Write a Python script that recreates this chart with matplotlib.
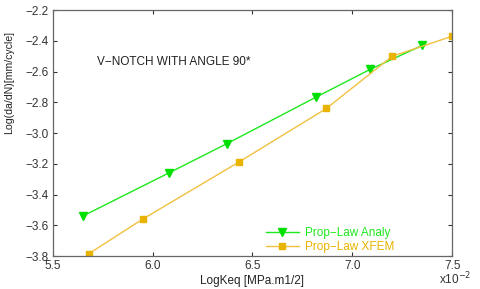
import matplotlib
matplotlib.use('Agg')
import matplotlib.pyplot as plt

# data
analy_x = [5.65, 6.08, 6.37, 6.82, 7.09, 7.35]
analy_y = [-3.54, -3.26, -3.07, -2.765, -2.585, -2.43]
xfem_x = [5.68, 5.95, 6.43, 6.87, 7.20, 7.50]
xfem_y = [-3.785, -3.56, -3.19, -2.84, -2.50, -2.37]

x_ticks = [5.5, 6.0, 6.5, 7.0, 7.5]
y_ticks = [-3.8, -3.6, -3.4, -3.2, -3.0, -2.8, -2.6, -2.4, -2.2]

green = '#1ee81e'
gold = '#e8b400'
gold_line = '#f0c040'
fs = 8.5

plt.rcParams['font.family'] = ['Liberation Sans', 'DejaVu Sans']

fig = plt.figure(figsize=(4.8, 2.89), dpi=100)
ax = fig.add_axes([0.110, 0.114, 0.832, 0.851])

ax.plot(analy_x, analy_y, color=green, linewidth=1.0, marker='v',
        markersize=6, markerfacecolor='#00e000', markeredgecolor='#00e000',
        label='Prop\u2212Law Analy')
ax.plot(xfem_x, xfem_y, color=gold_line, linewidth=1.0, marker='s',
        markersize=5, markerfacecolor=gold, markeredgecolor=gold,
        label='Prop\u2212Law XFEM')

ax.set_xlim(5.5, 7.5)
ax.set_ylim(-3.8, -2.2)
ax.set_xticks(x_ticks)
ax.set_xticklabels([f'{v:.1f}' for v in x_ticks])
ax.set_yticks(y_ticks)
ax.set_yticklabels([f'{v:.1f}'.replace('-', '\u2212') for v in y_ticks])
ax.tick_params(direction='in', top=True, right=True, length=3, width=0.8,
               labelsize=fs, colors='#333333', pad=3)
for sp in ax.spines.values():
    sp.set_color('#666666')
    sp.set_linewidth(0.9)

ax.set_xlabel('LogKeq [MPa.m1/2]', fontsize=fs, color='#222222', labelpad=2)
ax.set_ylabel('Log(da/dN)[mm/cycle]', fontsize=7.6, color='#222222')
ax.yaxis.set_label_coords(-0.097, 0.705)

ax.text(5.72, -2.538, 'V\u2212NOTCH WITH ANGLE 90*', fontsize=fs,
        color='#222222', va='center', ha='left')

fig.text(0.948, 0.005, r'x10$^{-2}$', fontsize=fs, color='#333333',
         ha='center', va='bottom')

leg = ax.legend(loc='lower left', bbox_to_anchor=(0.515, -0.015), fontsize=fs,
                frameon=False, handlelength=2.8, handletextpad=0.5,
                labelspacing=0.1, borderaxespad=0.2)
for txt, c in zip(leg.get_texts(), [green, gold]):
    txt.set_color(c)

fig.savefig('out.png', dpi=100)
